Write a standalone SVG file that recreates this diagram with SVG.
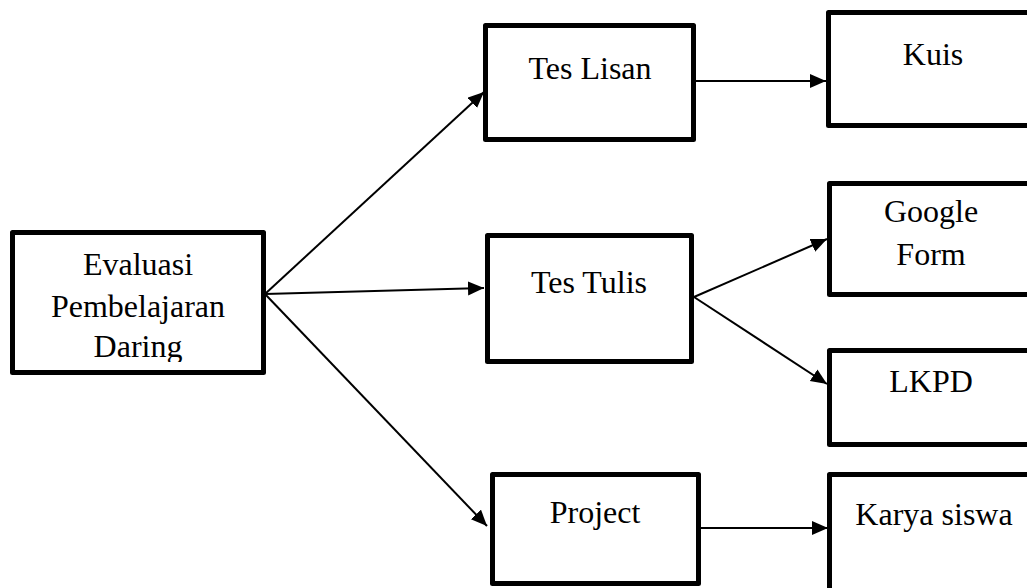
<svg xmlns="http://www.w3.org/2000/svg" width="1027" height="588" viewBox="0 0 1027 588">
  <style>
    .box { fill: #fff; stroke: #000; stroke-width: 5; stroke-linejoin: round; }
    .lbl { font-family: "Liberation Serif", "Times New Roman", serif; font-size: 32px; fill: #000; text-anchor: middle; }
    .edge { stroke: #000; stroke-width: 2; fill: none; marker-end: url(#arr); }
  </style>
  <defs>
    <marker id="arr" markerUnits="userSpaceOnUse" markerWidth="18" markerHeight="16" refX="16" refY="7" orient="auto">
      <path d="M0,0 L16,7 L0,14 z" fill="#000"/>
    </marker>
    <clipPath id="evalClip"><rect x="0" y="0" width="300" height="362"/></clipPath>
  </defs>
  <rect width="1027" height="588" fill="#fff"/>

  <g id="connectors">
    <line class="edge" x1="265" y1="294" x2="484" y2="92"/>
    <line class="edge" x1="265" y1="294" x2="484" y2="288"/>
    <line class="edge" x1="265" y1="294" x2="487" y2="526"/>
    <line class="edge" x1="696" y1="81" x2="826" y2="81"/>
    <line class="edge" x1="694" y1="297" x2="827" y2="239"/>
    <line class="edge" x1="694" y1="297" x2="827" y2="384"/>
    <line class="edge" x1="700" y1="528" x2="828" y2="528"/>
  </g>

  <g id="evaluasi">
    <rect class="box" x="12.5" y="232.5" width="251" height="140"/>
    <g clip-path="url(#evalClip)">
      <text class="lbl" x="138" y="275">Evaluasi</text>
      <text class="lbl" x="138" y="317">Pembelajaran</text>
      <text class="lbl" x="138" y="357">Daring</text>
    </g>
  </g>

  <g id="tes-lisan">
    <rect class="box" x="485.5" y="25.5" width="208" height="114"/>
    <text class="lbl" x="590" y="79">Tes Lisan</text>
  </g>

  <g id="tes-tulis">
    <rect class="box" x="487.5" y="235.5" width="204" height="126"/>
    <text class="lbl" x="589" y="293">Tes Tulis</text>
  </g>

  <g id="project">
    <rect class="box" x="492.5" y="474.5" width="206" height="109"/>
    <text class="lbl" x="595" y="523">Project</text>
  </g>

  <g id="kuis">
    <rect class="box" x="828.5" y="12.5" width="220" height="113"/>
    <text class="lbl" x="933" y="65">Kuis</text>
  </g>

  <g id="google-form">
    <rect class="box" x="829.5" y="183.5" width="220" height="111"/>
    <text class="lbl" x="931" y="222">Google</text>
    <text class="lbl" x="931" y="265">Form</text>
  </g>

  <g id="lkpd">
    <rect class="box" x="829.5" y="350.5" width="220" height="94"/>
    <text class="lbl" x="931" y="392">LKPD</text>
  </g>

  <g id="karya-siswa">
    <rect class="box" x="829.5" y="474.5" width="220" height="130"/>
    <text class="lbl" x="934" y="525">Karya siswa</text>
  </g>
</svg>
